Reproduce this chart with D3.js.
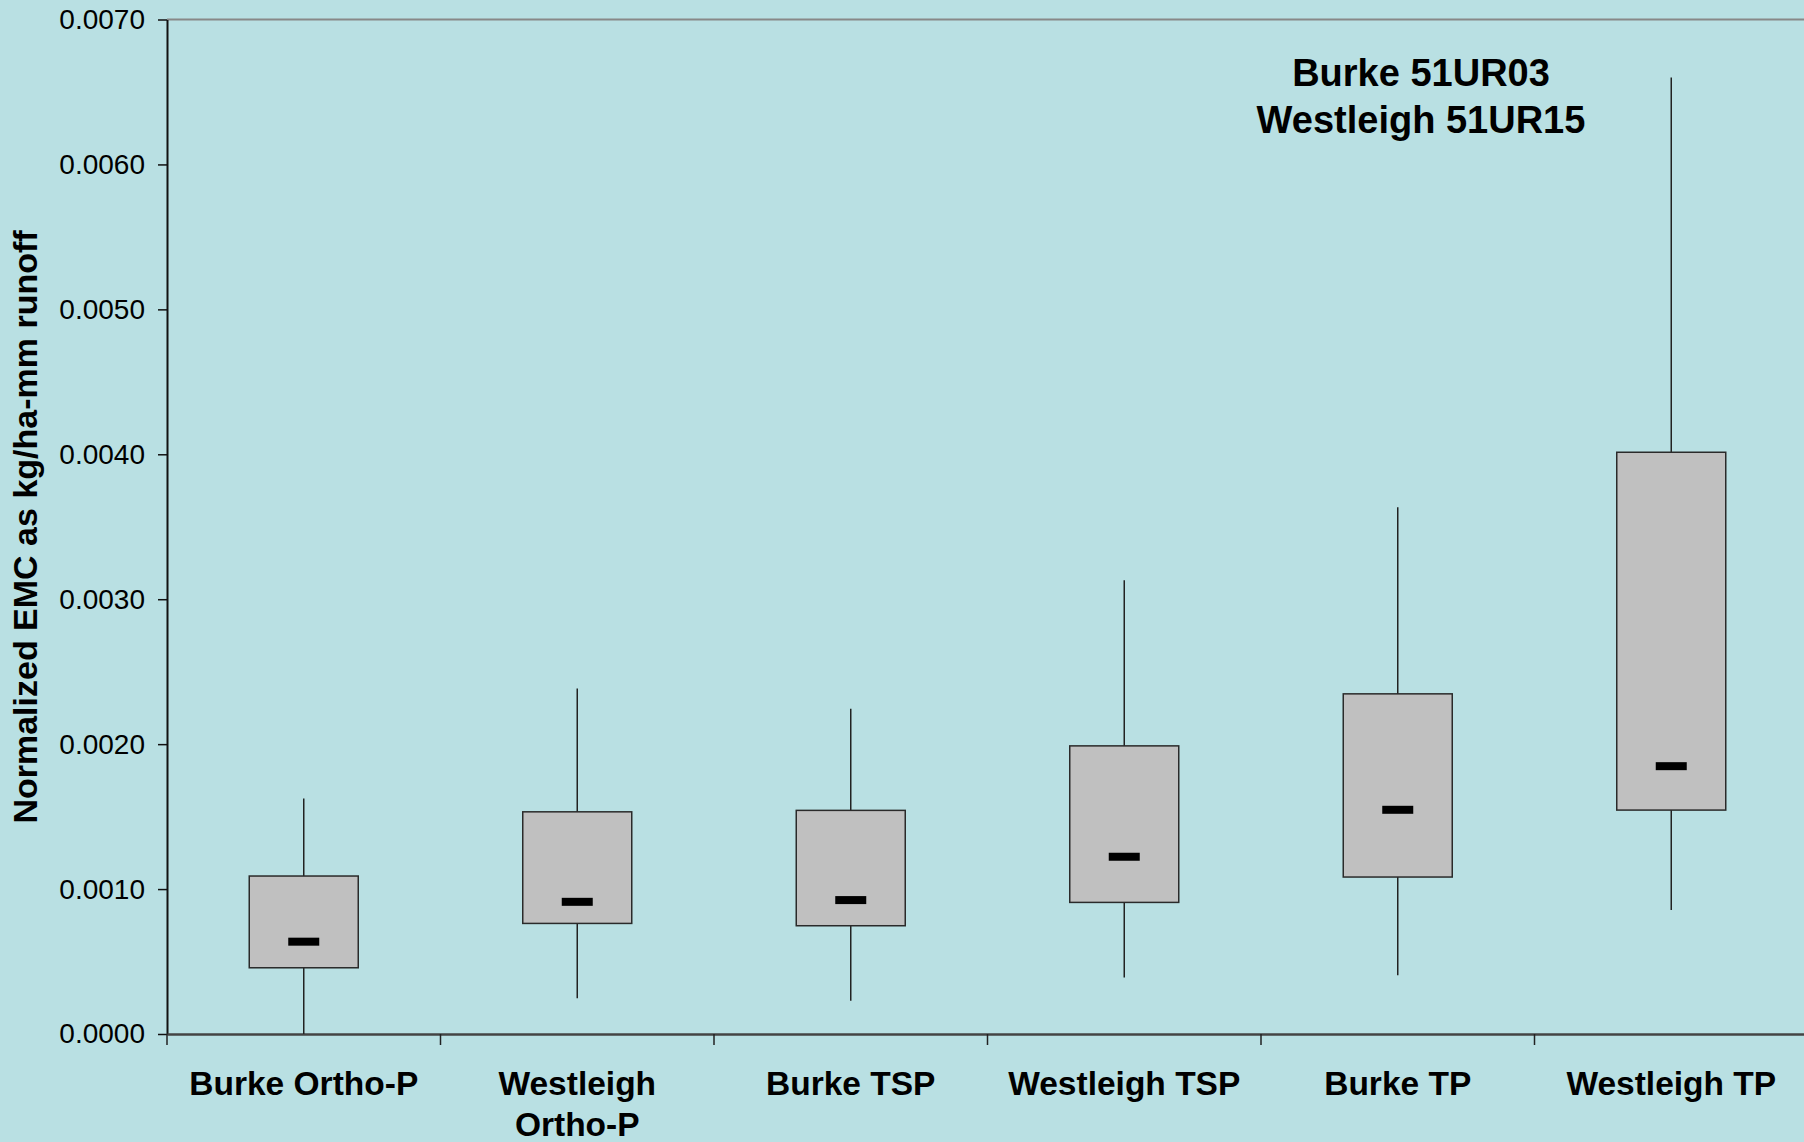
<!DOCTYPE html>
<html>
<head>
<meta charset="utf-8">
<script src="https://cdn.jsdelivr.net/npm/d3@7/dist/d3.min.js"></script>
<style>
  html, body { margin: 0; padding: 0; background: #b9e0e3; }
  svg { display: block; font-family: "Liberation Sans", Arial, sans-serif; }
</style>
</head>
<body>
<script>
// Box plot data
var categories = ["Burke Ortho-P", "Westleigh Ortho-P", "Burke TSP", "Westleigh TSP", "Burke TP", "Westleigh TP"]
var tickLines = [["Burke Ortho-P"], ["Westleigh", "Ortho-P"], ["Burke TSP"], ["Westleigh TSP"], ["Burke TP"], ["Westleigh TP"]]
var whiskerLow = [0.0, 0.000246, 0.00023, 0.00039, 0.000405, 0.000855]
var q1 = [0.000457, 0.000763, 0.000747, 0.000908, 0.001083, 0.001545]
var median = [0.000637, 0.000912, 0.000924, 0.001223, 0.001547, 0.001848]
var q3 = [0.00109, 0.001533, 0.001543, 0.001988, 0.002347, 0.004014]
var whiskerHigh = [0.001625, 0.002384, 0.002244, 0.003131, 0.003634, 0.0066]
var yTicks = [0, 0.001, 0.002, 0.003, 0.004, 0.005, 0.006, 0.007]
var titleLines = ["Burke 51UR03", "Westleigh 51UR15"]
var yTitle = "Normalized EMC as kg/ha-mm runoff"

// Size of the page and plot area
var W = 1804, H = 1142
var plotLeft = 167, plotTop = 19.5, plotBottom = 1034, plotRight = 1808

var svg = d3.select("body").append("svg")
    .attr("width", W)
    .attr("height", H)

svg.append("rect")
    .attr("width", W)
    .attr("height", H)
    .attr("fill", "#b9e0e3")

// Scales
var x = d3.scaleBand()
    .domain(categories)
    .range([plotLeft, plotRight])
    .padding(0)

var y = d3.scaleLinear()
    .domain([0, 0.007])
    .range([plotBottom, plotTop])

// Top border of plot area
svg.append("line")
    .attr("x1", plotLeft).attr("x2", plotRight)
    .attr("y1", plotTop).attr("y2", plotTop)
    .attr("stroke", "#888")
    .attr("stroke-width", 2)

// Y axis
var yAxis = svg.append("g")
    .attr("transform", "translate(" + plotLeft + ",0)")
    .call(d3.axisLeft(y)
      .tickValues(yTicks)
      .tickFormat(d3.format(".4f"))
      .tickSize(9)
      .tickSizeOuter(0)
      .tickPadding(13))
yAxis.select(".domain").attr("stroke", "#111").attr("stroke-width", 2)
yAxis.selectAll(".tick line").attr("stroke", "#111").attr("stroke-width", 1.5)
yAxis.selectAll(".tick text")
    .attr("fill", "#000")
    .style("font-size", "28px")

// X axis (labels at band centres)
var xAxis = svg.append("g")
    .attr("transform", "translate(0," + plotBottom + ")")
    .call(d3.axisBottom(x).tickSize(0).tickSizeOuter(0).tickPadding(0))
xAxis.select(".domain").attr("stroke", "#444").attr("stroke-width", 2.5)
xAxis.selectAll(".tick text").each(function(d, i) {
  var t = d3.select(this)
  t.text(null)
    .attr("y", 61)
    .attr("dy", null)
    .attr("fill", "#000")
    .style("font-size", "33.5px")
    .style("font-weight", "bold")
  tickLines[i].forEach(function(line, j) {
    t.append("tspan")
      .attr("x", 0)
      .attr("dy", j == 0 ? 0 : 41)
      .text(line)
  })
})

// Tick marks at band boundaries
svg.append("g").selectAll("line")
    .data(categories)
    .enter().append("line")
    .attr("x1", function(d) { return x(d) })
    .attr("x2", function(d) { return x(d) })
    .attr("y1", plotBottom)
    .attr("y2", plotBottom + 11)
    .attr("stroke", "#222")
    .attr("stroke-width", 1.5)

// Boxes
var boxW = 109
var boxes = svg.append("g").selectAll("g")
    .data(categories)
    .enter().append("g")

boxes.append("line")
    .attr("x1", function(d) { return x(d) + x.bandwidth() / 2 })
    .attr("x2", function(d) { return x(d) + x.bandwidth() / 2 })
    .attr("y1", function(d, i) { return y(whiskerHigh[i]) })
    .attr("y2", function(d, i) { return y(whiskerLow[i]) })
    .attr("stroke", "#222")
    .attr("stroke-width", 1.5)

boxes.append("rect")
    .attr("x", function(d) { return x(d) + x.bandwidth() / 2 - boxW / 2 })
    .attr("width", boxW)
    .attr("y", function(d, i) { return y(q3[i]) })
    .attr("height", function(d, i) { return y(q1[i]) - y(q3[i]) })
    .attr("fill", "#c0c0c0")
    .attr("stroke", "#2a2a2a")
    .attr("stroke-width", 1.5)

boxes.append("rect")
    .attr("x", function(d) { return x(d) + x.bandwidth() / 2 - 15.5 })
    .attr("width", 31)
    .attr("y", function(d, i) { return y(median[i]) - 4 })
    .attr("height", 8)
    .attr("fill", "#000")

// Title inside plot
svg.append("text")
    .attr("x", 1421)
    .attr("y", 86)
    .attr("text-anchor", "middle")
    .style("font-size", "38px")
    .style("font-weight", "bold")
    .selectAll("tspan")
    .data(titleLines)
    .enter().append("tspan")
    .attr("x", 1421)
    .attr("dy", function(d, i) { return i == 0 ? 0 : 47 })
    .text(function(d) { return d })

// Y axis title
svg.append("text")
    .attr("transform", "translate(37,527) rotate(-90)")
    .attr("text-anchor", "middle")
    .style("font-size", "34px")
    .style("font-weight", "bold")
    .text(yTitle)
</script>
</body>
</html>
